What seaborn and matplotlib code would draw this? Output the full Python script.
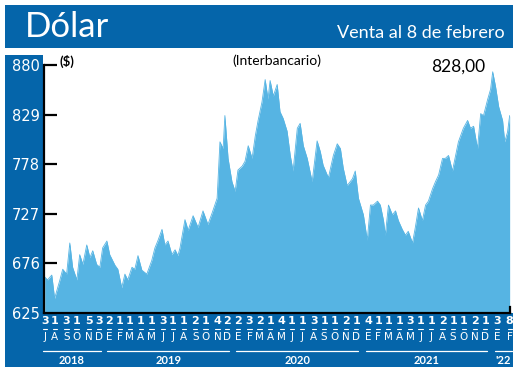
import pandas as pd
import matplotlib
matplotlib.use("Agg")
import matplotlib.pyplot as plt
import matplotlib.dates as mdates
import matplotlib.transforms as mtransforms
from matplotlib.patches import Rectangle
import seaborn as sns

# --- datos: dolar interbancario ($) ---
fechas = [
    "2018-07-03", "2018-07-11", "2018-07-23", "2018-07-31", "2018-08-15", "2018-08-23",
    "2018-09-03", "2018-09-12", "2018-09-20", "2018-10-02", "2018-10-10", "2018-10-19",
    "2018-10-30", "2018-11-08", "2018-11-16", "2018-11-27", "2018-12-06", "2018-12-14",
    "2018-12-26", "2019-01-03", "2019-01-18", "2019-01-26", "2019-02-06", "2019-02-15",
    "2019-02-23", "2019-03-07", "2019-03-15", "2019-03-24", "2019-04-04", "2019-04-18",
    "2019-05-02", "2019-05-11", "2019-05-19", "2019-05-31", "2019-06-08", "2019-06-17",
    "2019-06-28", "2019-07-07", "2019-07-15", "2019-07-21", "2019-08-04", "2019-08-13",
    "2019-08-27", "2019-09-10", "2019-09-24", "2019-10-08", "2019-10-20", "2019-11-03",
    "2019-11-11", "2019-11-20", "2019-11-25", "2019-12-04", "2019-12-15", "2019-12-24",
    "2020-01-01", "2020-01-13", "2020-01-21", "2020-01-30", "2020-02-10", "2020-02-19",
    "2020-02-27", "2020-03-09", "2020-03-18", "2020-03-26", "2020-04-01", "2020-04-10",
    "2020-04-21", "2020-04-29", "2020-05-08", "2020-05-19", "2020-05-28", "2020-06-05",
    "2020-06-17", "2020-06-25", "2020-07-04", "2020-07-15", "2020-07-29", "2020-08-12",
    "2020-08-21", "2020-08-29", "2020-09-13", "2020-09-27", "2020-10-08", "2020-10-17",
    "2020-10-25", "2020-11-05", "2020-11-20", "2020-11-28", "2020-12-07", "2020-12-21",
    "2021-01-01", "2021-01-10", "2021-01-18", "2021-01-30", "2021-02-07", "2021-02-16",
    "2021-02-21", "2021-03-02", "2021-03-13", "2021-03-22", "2021-03-30", "2021-04-10",
    "2021-04-19", "2021-04-27", "2021-05-09", "2021-05-17", "2021-05-26", "2021-06-06",
    "2021-06-15", "2021-06-23", "2021-07-05", "2021-07-13", "2021-07-22", "2021-08-02",
    "2021-08-10", "2021-08-19", "2021-08-30", "2021-09-08", "2021-09-16", "2021-09-30",
    "2021-10-12", "2021-10-20", "2021-10-29", "2021-11-09", "2021-11-18", "2021-11-26",
    "2021-12-08", "2021-12-16", "2021-12-22", "2021-12-30", "2022-01-08", "2022-01-19",
    "2022-01-25", "2022-02-02", "2022-02-08",
]
valores = [
    662, 659, 664, 640, 659, 670,
    665, 697, 672, 659, 685, 675,
    695, 682, 689, 675, 672, 692,
    699, 685, 674, 670, 651, 665,
    659, 672, 670, 684, 669, 665,
    679, 692, 699, 711, 695, 699,
    685, 690, 684, 692, 721, 710,
    725, 713, 730, 716, 728, 743,
    801, 794, 828, 784, 760, 750,
    772, 776, 781, 797, 784, 807,
    823, 842, 865, 845, 864, 848,
    860, 832, 825, 812, 787, 771,
    815, 820, 797, 784, 760, 802,
    791, 777, 764, 787, 799, 794,
    774, 756, 763, 771, 743, 726,
    700, 736, 736, 740, 736, 720,
    705, 736, 726, 730, 720, 711,
    705, 709, 697, 713, 733, 720,
    736, 740, 753, 760, 767, 784,
    784, 787, 771, 787, 801, 815,
    823, 815, 817, 794, 830, 828,
    845, 855, 873, 858, 837, 823,
    801, 811, 828,
]

# primer dia habil de cada mes (rotulos del eje)
tick_fechas = [
    "2018-07-03", "2018-08-01", "2018-09-03", "2018-10-01", "2018-11-05", "2018-12-03",
    "2019-01-02", "2019-02-01", "2019-03-01", "2019-04-01", "2019-05-01", "2019-06-03",
    "2019-07-01", "2019-08-01", "2019-09-02", "2019-10-01", "2019-11-04", "2019-12-02",
    "2020-01-02", "2020-02-03", "2020-03-02", "2020-04-01", "2020-05-04", "2020-06-01",
    "2020-07-01", "2020-08-03", "2020-09-01", "2020-10-01", "2020-11-02", "2020-12-01",
    "2021-01-04", "2021-02-01", "2021-03-01", "2021-04-01", "2021-05-03", "2021-06-01",
    "2021-07-01", "2021-08-02", "2021-09-01", "2021-10-01", "2021-11-02", "2021-12-01",
    "2022-01-03", "2022-02-08",
]
tick_meses = list("JASOND" + "EFMAMJJASOND" * 3 + "EF")
anios = ["2018", "2019", "2020", "2021", "'22"]
yticks = [625, 676, 727, 778, 829, 880]

azul = "#0565AA"
celeste = "#56B4E3"

sns.set_theme(style="white")
plt.rcParams['font.family'] = ['Lato', 'DejaVu Sans']
narrow = ['Liberation Sans Narrow', 'DejaVu Sans']

df = pd.DataFrame({"fecha": pd.to_datetime(fechas), "valor": valores})
ticks = pd.to_datetime(tick_fechas)

W, H = 520, 373
fig = plt.figure(figsize=(W / 100, H / 100), dpi=100)


def fx(px):
    return px / W


def fy(py):
    return 1 - py / H


# marco azul
for x0, y0, x1, y1 in [(5, 5, 513, 48), (5, 55, 43, 367), (5, 313, 513, 367)]:
    fig.add_artist(Rectangle((fx(x0), fy(y1)), fx(x1 - x0), (y1 - y0) / H,
                             transform=fig.transFigure, color=azul, lw=0, zorder=-1))

ax = fig.add_axes([fx(44), fy(313), fx(510 - 44), (313 - 65) / H])
ax.fill_between(df["fecha"], 625, df["valor"], color=celeste, lw=0)
sns.lineplot(data=df, x="fecha", y="valor", color=celeste, lw=0.6, ax=ax)

ax.set_ylim(625, 880)
ax.set_xlim(pd.Timestamp("2018-07-01"), pd.Timestamp("2022-02-09"))
ax.set_xlabel("")
ax.set_ylabel("")

for s in ["left", "bottom", "right"]:
    ax.spines[s].set_color("black")
    ax.spines[s].set_linewidth(1.6)
ax.spines["top"].set_visible(False)
ax.spines["right"].set_bounds(625, 631)

ax.set_yticks(yticks)
ax.set_yticklabels([str(v) for v in yticks])
ax.tick_params(axis="y", direction="in", length=9, width=1.6, color="black",
               labelcolor="white", labelsize=10.5, pad=3, left=True)
for lbl in ax.get_yticklabels():
    lbl.set_fontfamily(narrow)

ax.set_xticks(ticks)
ax.set_xticklabels([str(t.day) for t in ticks])
ax.tick_params(axis="x", length=0, labelcolor="white", labelsize=8, pad=2)
for lbl in ax.get_xticklabels():
    lbl.set_fontfamily(narrow)
    lbl.set_fontweight("bold")

# meses, guiones y anios bajo el eje
trans = mtransforms.blended_transform_factory(ax.transData, fig.transFigure)
tnum = mdates.date2num(ticks)
for t, m in zip(tnum, tick_meses):
    ax.plot([t - 6, t + 6], [fy(329), fy(329)], transform=trans, color="white",
            lw=0.8, clip_on=False, scalex=False, scaley=False)
    ax.text(t, fy(337), m, transform=trans, ha="center", va="center",
            color="white", fontsize=7.5, family=narrow, clip_on=False)

anio_tick = [t.year for t in ticks]
for a, lab in zip(sorted(set(anio_tick)), anios):
    sel = [n for n, y in zip(tnum, anio_tick) if y == a]
    ax.plot([sel[0] - 6, sel[-1] + 6], [fy(351), fy(351)], transform=trans,
            color="white", lw=0.9, clip_on=False, scalex=False, scaley=False)
    ax.text((sel[0] + sel[-1]) / 2, fy(361), lab, transform=trans, ha="center",
            va="center", color="white", fontsize=8, fontweight="bold", clip_on=False)

# textos
fig.text(fx(25), fy(37), "Dólar", color="white", fontsize=25, va="baseline")
fig.text(fx(505), fy(38), "Venta al 8 de febrero", color="white", fontsize=13,
         ha="right", va="baseline")
fig.text(fx(277), fy(61), "(Interbancario)", color="black", fontsize=10,
         ha="center", va="center")
fig.text(fx(60), fy(61), "($)", color="black", fontsize=9.5, fontweight="bold",
         ha="left", va="center")
fig.text(fx(485), fy(67), "828,00", color="black", fontsize=12.5,
         ha="right", va="center")

fig.savefig("out.png", dpi=100)
